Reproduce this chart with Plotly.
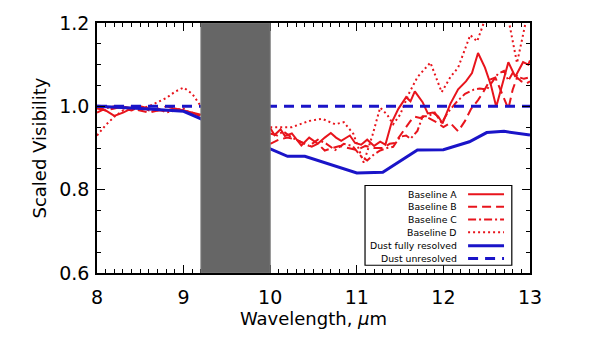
import plotly.graph_objects as go

# ---------------- data ----------------
left_x = [8.0, 8.1, 8.2, 8.3, 8.4, 8.5, 8.6, 8.7, 8.8, 8.9, 9.0, 9.1, 9.2]
a_left = [1.0, 0.99, 0.977, 0.985, 0.995, 1.0, 0.995, 0.99, 0.99, 0.995, 0.99, 0.985, 0.98]
b_left = [0.995, 0.99, 0.995, 1.0, 0.995, 0.99, 0.985, 0.99, 1.0, 0.995, 0.99, 0.985, 0.975]
c_left = [0.985, 0.995, 1.0, 0.995, 0.99, 1.0, 0.99, 0.995, 0.985, 0.99, 0.995, 0.98, 0.97]
d_left = [0.93, 0.955, 0.975, 0.99, 1.0, 0.995, 1.0, 1.01, 1.02, 1.035, 1.045, 1.03, 1.0]

a_x = [10.0, 10.05, 10.12, 10.17, 10.25, 10.36, 10.45, 10.55, 10.63, 10.7, 10.76, 10.82, 10.92,
       10.98, 11.05, 11.12, 11.2, 11.27, 11.33, 11.4, 11.48, 11.53, 11.57, 11.62, 11.67, 11.76,
       11.82, 11.88, 11.94, 11.99, 12.08, 12.17, 12.26, 12.33, 12.40, 12.48, 12.55, 12.61, 12.68,
       12.75, 12.83, 12.88, 12.92, 12.98, 13.0]
a_y = [0.948, 0.931, 0.945, 0.929, 0.935, 0.906, 0.925, 0.91, 0.925, 0.936, 0.925, 0.917, 0.93,
       0.912, 0.908, 0.92, 0.905, 0.915, 0.908, 0.96, 0.994, 1.01, 1.022, 1.012, 1.036, 1.01,
       0.983, 0.985, 0.976, 0.959, 1.006, 1.041, 1.06, 1.08, 1.128, 1.093, 1.05, 0.999, 1.05,
       1.106, 1.071, 1.09, 1.106, 1.1, 1.11]

b_x = [10.0, 10.1, 10.2, 10.3, 10.4, 10.48, 10.55, 10.63, 10.72, 10.8, 10.9, 11.0, 11.1, 11.2,
       11.3, 11.38, 11.44, 11.5, 11.56, 11.62, 11.67, 11.73, 11.79, 11.85, 11.92, 12.0, 12.08,
       12.17, 12.25, 12.32, 12.4, 12.46, 12.54, 12.6, 12.68, 12.75, 12.8, 12.85, 12.9, 12.96, 13.0]
b_y = [0.91, 0.92, 0.925, 0.92, 0.91, 0.903, 0.91, 0.894, 0.9, 0.905, 0.9, 0.895, 0.905, 0.9,
       0.9, 0.91, 0.912, 0.93, 0.948, 0.965, 0.975, 0.972, 0.976, 0.97, 0.962, 0.95, 0.96,
       0.94, 0.965, 0.994, 1.015, 1.034, 1.064, 1.069, 1.03, 0.994, 1.04, 1.069, 1.06, 1.055, 1.06]

c_x = [10.0, 10.08, 10.15, 10.25, 10.35, 10.45, 10.55, 10.65, 10.75, 10.85, 10.95, 11.05, 11.12,
       11.2, 11.27, 11.35, 11.42, 11.5, 11.57, 11.62, 11.7, 11.76, 11.82, 11.9, 11.98, 12.05,
       12.15, 12.25, 12.35, 12.42, 12.5, 12.57, 12.63, 12.7, 12.75, 12.8, 12.87, 12.93, 13.0]
c_y = [0.935, 0.93, 0.94, 0.925, 0.915, 0.905, 0.92, 0.91, 0.895, 0.91, 0.905, 0.88, 0.87,
       0.885, 0.894, 0.9, 0.903, 0.927, 0.93, 0.922, 0.941, 0.976, 0.976, 0.985, 0.96, 0.985,
       1.01, 1.03, 1.04, 1.043, 1.04, 1.06, 1.078, 1.085, 1.062, 1.08, 1.07, 1.066, 1.07]

d_x = [10.0, 10.25, 10.45, 10.6, 10.75, 10.85, 10.96, 11.08, 11.18, 11.27, 11.35, 11.42, 11.5,
       11.6, 11.7, 11.85, 11.98, 12.08, 12.17, 12.31, 12.39, 12.5, 12.6, 12.75, 12.85, 12.95, 13.0]
d_y = [0.95, 0.95, 0.965, 0.97, 0.957, 0.962, 0.934, 0.865, 0.93, 0.997, 0.98, 0.957, 0.98,
       1.03, 1.07, 1.105, 1.034, 1.07, 1.093, 1.171, 1.156, 1.22, 1.25, 1.21, 1.104, 1.21, 1.25]

res_x = [8.0, 8.5, 9.0, 9.2, 10.0, 10.2, 10.4, 10.7, 11.0, 11.3, 11.7, 12.0, 12.3, 12.5, 12.7, 13.0]
res_y = [1.0, 0.995, 0.988, 0.97, 0.898, 0.88, 0.88, 0.86, 0.84, 0.842, 0.895, 0.896, 0.915,
         0.937, 0.94, 0.931]

unres_x = [8.0, 13.0]
unres_y = [1.0, 1.0]

band_x = [9.2, 10.0]

legend_labels = ["Baseline A", "Baseline B", "Baseline C", "Baseline D",
                 "Dust fully resolved", "Dust unresolved"]

# ---------------- styles ----------------
RED = "#e8141c"
BLUE = "#1a14c8"
dash_a = "solid"
dash_b = "9px,5px"
dash_c = "8px,3px,2px,3px"
dash_d = "2px,3px"
dash_u = "10px,7px"
FONT = "DejaVu Sans"

fig = go.Figure()

def add(x, y, color, width, dash):
    fig.add_trace(go.Scatter(x=x, y=y, mode="lines", showlegend=False,
                             line=dict(color=color, width=width, dash=dash)))

add(left_x, d_left, RED, 2, dash_d)
add(left_x, c_left, RED, 2, dash_c)
add(left_x, b_left, RED, 2, dash_b)
add(left_x, a_left, RED, 2, dash_a)
add(d_x, d_y, RED, 2, dash_d)
add(c_x, c_y, RED, 2, dash_c)
add(b_x, b_y, RED, 2, dash_b)
add(a_x, a_y, RED, 2, dash_a)
add(res_x, res_y, BLUE, 3, "solid")
add(unres_x, unres_y, BLUE, 3, dash_u)

# grey excluded band
fig.add_shape(type="rect", xref="x", yref="y", x0=band_x[0], x1=band_x[1], y0=0.6, y1=1.2,
              fillcolor="#666666", line=dict(color="#7a7a7a", width=1), layer="above")

# custom legend (line samples on the right, text right-aligned)
lx0, lx1, ly0, ly1 = 0.619, 0.958, 0.031, 0.35
fig.add_shape(type="rect", xref="paper", yref="paper", x0=lx0, x1=lx1, y0=ly0, y1=ly1,
              fillcolor="white", line=dict(color="black", width=1.2), layer="above")
styles = [(RED, 2, dash_a), (RED, 2, dash_b), (RED, 2, dash_c), (RED, 2, dash_d),
          (BLUE, 3, "solid"), (BLUE, 3, dash_u)]
row_y = [0.315, 0.265, 0.214, 0.163, 0.109, 0.058]
for lab, (col, w, dsh), yy in zip(legend_labels, styles, row_y):
    fig.add_annotation(xref="paper", yref="paper", x=0.836, y=yy, text=lab,
                       showarrow=False, xanchor="right", yanchor="middle",
                       font=dict(family=FONT, size=9.3, color="black"))
    fig.add_shape(type="line", xref="paper", yref="paper", x0=0.857, x1=0.94, y0=yy, y1=yy,
                  line=dict(color=col, width=w, dash=dsh), layer="above")

axis_common = dict(showline=True, linecolor="black", linewidth=1.5, mirror="allticks",
                   ticks="inside", ticklen=8, tickwidth=1.2, tickcolor="black",
                   showgrid=False, zeroline=False,
                   tickfont=dict(family=FONT, size=19, color="black"))

fig.update_xaxes(range=[8, 13], dtick=1, tick0=8, ticklabelstandoff=6,
                 minor=dict(dtick=0.1, ticks="inside", ticklen=4, tickcolor="black", tickwidth=1),
                 title=dict(text="Wavelength, <i>μ</i>m", standoff=6,
                            font=dict(family=FONT, size=18, color="black")),
                 **axis_common)
fig.update_yaxes(range=[0.6, 1.2], dtick=0.2, tick0=0.6, tickformat=".1f", ticklabelstandoff=2,
                 minor=dict(dtick=0.05, ticks="inside", ticklen=4, tickcolor="black", tickwidth=1),
                 title=dict(text="Scaled Visibility", standoff=8,
                            font=dict(family=FONT, size=18, color="black")),
                 **axis_common)

fig.update_layout(width=600, height=338, margin=dict(l=97, r=70, t=16, b=65),
                  paper_bgcolor="white", plot_bgcolor="white")

fig.write_html("out.html")
